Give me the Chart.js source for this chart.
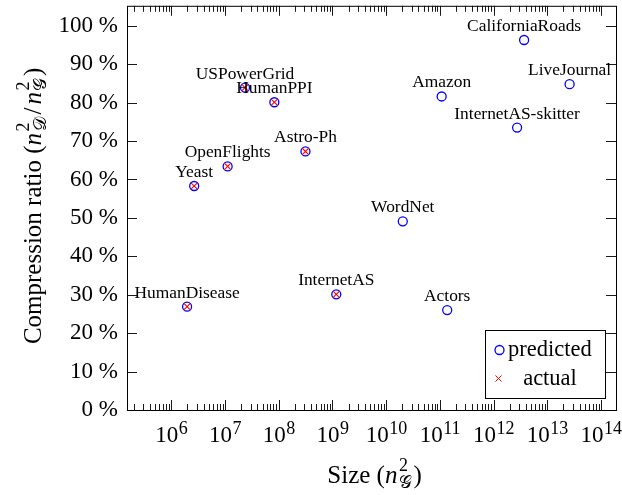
<!DOCTYPE html>
<html><head><meta charset="utf-8">
<script src="https://cdn.jsdelivr.net/npm/chart.js@4.4.1/dist/chart.umd.min.js"></script>
<style>html,body{margin:0;padding:0;background:#fff;}#wrap{width:622px;height:495px;}</style>
</head><body><div id="wrap"><canvas id="c" width="622" height="495"></canvas></div>
<script>
// ---- data ----
const names = ['USPowerGrid','HumanPPI','Astro-Ph','OpenFlights','Yeast','HumanDisease','InternetAS','WordNet','Amazon','Actors','InternetAS-skitter','CaliforniaRoads','LiveJournal'];
const sizes = [2.36e7, 8.3e7, 3.15e8, 1.12e7, 2.67e6, 1.97e6, 1.18e9, 2.04e10, 1.08e11, 1.37e11, 2.74e12, 3.7e12, 2.6e13];
const predicted = [83.9, 80.1, 67.3, 63.4, 58.3, 26.9, 30.1, 49.1, 81.6, 26.0, 73.5, 96.3, 84.8];
const actual = [83.9, 80.1, 67.3, 63.4, 58.3, 26.9, 30.1, null, null, null, null, null, null];
const xTickValues = [1e6,1e7,1e8,1e9,1e10,1e11,1e12,1e13,1e14];
const yTickValues = [0,10,20,30,40,50,60,70,80,90,100];
const seriesNames = ['predicted','actual'];
const xTitle = 'Size';
const yTitle = 'Compression ratio';

const F = '"Liberation Serif", "Times New Roman", serif';

// ---- plugins ----
const framePlugin = {
  id: 'frame',
  beforeDatasetsDraw(chart) {
    const {ctx, chartArea: a, scales: {x, y}} = chart;
    ctx.save();
    ctx.strokeStyle = '#000';
    ctx.lineWidth = 0.9;
    ctx.beginPath();
    for (let e = 5; e <= 14; e++) {
      for (let m = 1; m <= 9; m++) {
        const v = m * Math.pow(10, e);
        if (v < x.min || v > x.max) continue;
        const px = Math.round(x.getPixelForValue(v)) + 0.5;
        const len = m === 1 ? 10 : 6;
        ctx.moveTo(px, a.bottom); ctx.lineTo(px, a.bottom - len);
        ctx.moveTo(px, a.top); ctx.lineTo(px, a.top + len);
      }
    }
    yTickValues.forEach(v => {
      const py = Math.round(y.getPixelForValue(v)) + 0.5;
      ctx.moveTo(a.left, py); ctx.lineTo(a.left + 10, py);
      ctx.moveTo(a.right, py); ctx.lineTo(a.right - 10, py);
    });
    ctx.stroke();
    ctx.lineWidth = 1;
    ctx.strokeRect(a.left + 0.5, a.top + 0.5, a.right - a.left, a.bottom - a.top);
    ctx.restore();
  }
};

// x tick labels: 10 with a real superscript exponent, placed by the log scale
const xTickLabelPlugin = {
  id: 'xTickLabels',
  afterDraw(chart) {
    const {ctx, scales: {x}} = chart;
    ctx.save();
    ctx.fillStyle = '#000';
    ctx.textBaseline = 'alphabetic';
    ctx.textAlign = 'left';
    x.ticks.forEach(t => {
      const px = x.getPixelForValue(t.value);
      const exp = String(Math.round(Math.log10(t.value)));
      ctx.font = '23px ' + F; const w1 = ctx.measureText('10').width;
      ctx.font = '18px ' + F; const w2 = ctx.measureText(exp).width;
      const x0 = px - (w1 + w2) / 2;
      ctx.font = '23px ' + F; ctx.fillText('10', x0, 442);
      ctx.font = '18px ' + F; ctx.fillText(exp, x0 + w1 + 0.5, 434);
    });
    ctx.restore();
  }
};

const labelPlugin = {
  id: 'pointLabels',
  afterDatasetsDraw(chart) {
    const {ctx} = chart;
    const meta = chart.getDatasetMeta(0);
    ctx.save();
    ctx.font = '17.4px ' + F;
    ctx.fillStyle = '#000';
    ctx.textAlign = 'center';
    ctx.textBaseline = 'alphabetic';
    meta.data.forEach((pt, i) => { ctx.fillText(names[i], pt.x, pt.y - 9); });
    ctx.restore();
  }
};

function drawRich(ctx, runs, cx, cy) {
  let total = 0;
  const widths = runs.map(r => {
    let w;
    if (r.t !== undefined) { ctx.font = r.font; w = ctx.measureText(r.t).width; }
    else { ctx.font = r.supFont; const w1 = ctx.measureText(r.sup).width; ctx.font = r.subFont; const w2 = ctx.measureText(r.sub).width; w = Math.max(w1, w2); }
    total += w + (r.pad || 0); return w;
  });
  let x = cx - total / 2;
  ctx.textAlign = 'left';
  ctx.textBaseline = 'alphabetic';
  runs.forEach((r, i) => {
    if (r.t !== undefined) { ctx.font = r.font; ctx.fillText(r.t, x, cy + (r.dy || 0)); }
    else { ctx.font = r.supFont; ctx.fillText(r.sup, x, cy + r.supDy); ctx.font = r.subFont; ctx.fillText(r.sub, x, cy + r.subDy); }
    x += widths[i] + (r.pad || 0);
  });
}

const titlePlugin = {
  id: 'titles',
  afterDraw(chart) {
    const {ctx, chartArea: a} = chart;
    const main = '25px ' + F, ital = 'italic 25px ' + F, supF = '18px ' + F, subF = '18px ' + F;
    ctx.save();
    ctx.fillStyle = '#000';
    // x title
    drawRich(ctx, [
      {t: xTitle + ' (', font: main},
      {t: 'n', font: ital, pad: 1.5},
      {sup: '2', sub: '\u{1D4A2}', supFont: supF, subFont: subF, supDy: -12, subDy: 5, pad: 1.5},
      {t: ')', font: main}
    ], (a.left + a.right) / 2 + 3, 483);
    // y title
    ctx.translate(41, (a.top + a.bottom) / 2 - 2);
    ctx.rotate(-Math.PI / 2);
    drawRich(ctx, [
      {t: yTitle + ' (', font: main},
      {t: 'n', font: ital, pad: 1.5},
      {sup: '2', sub: '\u{1D49F}', supFont: supF, subFont: subF, supDy: -12, subDy: 5, pad: 3},
      {t: '/', font: main, pad: 3},
      {t: 'n', font: ital, pad: 1.5},
      {sup: '2', sub: '\u{1D4A2}', supFont: supF, subFont: subF, supDy: -12, subDy: 5, pad: 1.5},
      {t: ')', font: main}
    ], 0, 0);
    ctx.restore();
  }
};

const legendPlugin = {
  id: 'boxLegend',
  afterDraw(chart) {
    const {ctx} = chart;
    const bx = 485.5, by = 330.5, bw = 120, bh = 68;
    ctx.save();
    ctx.fillStyle = '#fff';
    ctx.fillRect(bx, by, bw, bh);
    ctx.strokeStyle = '#000'; ctx.lineWidth = 1;
    ctx.strokeRect(bx, by, bw, bh);
    ctx.strokeStyle = '#0000ff'; ctx.lineWidth = 1.3;
    ctx.beginPath(); ctx.arc(499.5, 350, 4.5, 0, Math.PI * 2); ctx.stroke();
    ctx.strokeStyle = '#ff0000'; ctx.lineWidth = 1;
    ctx.beginPath();
    ctx.moveTo(495.5, 375.5); ctx.lineTo(501.5, 381.5);
    ctx.moveTo(501.5, 375.5); ctx.lineTo(495.5, 381.5);
    ctx.stroke();
    ctx.fillStyle = '#000';
    ctx.font = '22.5px ' + F;
    ctx.textBaseline = 'alphabetic';
    ctx.textAlign = 'left';
    ctx.fillText(seriesNames[0], 508, 356);
    ctx.textAlign = 'center';
    ctx.fillText(seriesNames[1], 550, 385);
    ctx.restore();
  }
};

// ---- chart ----
const predPts = sizes.map((s, i) => ({x: s, y: predicted[i]}));
const actPts = sizes.map((s, i) => ({x: s, y: actual[i]})).filter(p => p.y !== null);

new Chart(document.getElementById('c'), {
  type: 'scatter',
  data: {
    datasets: [
      {label: seriesNames[0], data: predPts, pointStyle: 'circle', pointRadius: 4.5, pointBorderWidth: 1.3,
       borderColor: '#0000ff', backgroundColor: 'rgba(0,0,0,0)', order: 2},
      {label: seriesNames[1], data: actPts, pointStyle: 'crossRot', pointRadius: 4.5, pointBorderWidth: 1.1,
       borderColor: '#ff0000', backgroundColor: '#ff0000', order: 1}
    ]
  },
  options: {
    responsive: false,
    animation: false,
    devicePixelRatio: 1,
    layout: {padding: {top: 2, right: 6, bottom: 0, left: 0}},
    plugins: {legend: {display: false}, tooltip: {enabled: false}},
    scales: {
      x: {
        type: 'logarithmic', position: 'bottom',
        min: 1.5e5, max: 1.9e14,
        grid: {display: false, drawTicks: false},
        border: {display: false},
        afterBuildTicks: s => { s.ticks = xTickValues.map(v => ({value: v})); },
        afterFit: s => { s.height = 85; s.paddingLeft = 0; s.paddingRight = 0; },
        ticks: {display: false, autoSkip: false, maxRotation: 0}
      },
      y: {
        type: 'linear', position: 'left',
        min: 0, max: 105.2,
        grid: {display: false, drawTicks: false},
        border: {display: false},
        afterBuildTicks: s => { s.ticks = yTickValues.map(v => ({value: v})); },
        afterFit: s => { s.width = 127; s.paddingTop = 0; s.paddingBottom = 0; },
        ticks: {
          autoSkip: false, padding: 9, color: '#000',
          font: {family: 'Liberation Serif', size: 23},
          callback: v => v + ' %'
        }
      }
    }
  },
  plugins: [framePlugin, labelPlugin, xTickLabelPlugin, titlePlugin, legendPlugin]
});
</script></body></html>
